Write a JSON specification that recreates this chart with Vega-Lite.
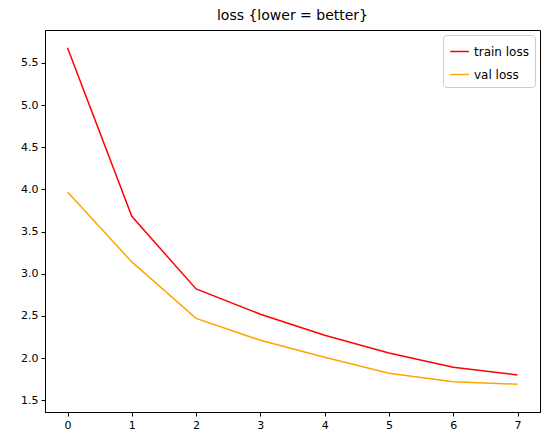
{
  "$schema": "https://vega.github.io/schema/vega-lite/v6.json",
  "width": 495,
  "height": 382,
  "autosize": {"type": "none"},
  "padding": {"left": 45, "top": 30, "right": 7, "bottom": 23},
  "title": {"text": "loss {lower = better}", "font": "DejaVu Sans", "fontSize": 14, "fontWeight": "normal", "offset": 7},
  "data": {
    "values": [
      {"epoch": 0, "loss": 5.68, "series": "train loss"},
      {"epoch": 1, "loss": 3.68, "series": "train loss"},
      {"epoch": 2, "loss": 2.82, "series": "train loss"},
      {"epoch": 3, "loss": 2.52, "series": "train loss"},
      {"epoch": 4, "loss": 2.27, "series": "train loss"},
      {"epoch": 5, "loss": 2.06, "series": "train loss"},
      {"epoch": 6, "loss": 1.89, "series": "train loss"},
      {"epoch": 7, "loss": 1.80, "series": "train loss"},
      {"epoch": 0, "loss": 3.97, "series": "val loss"},
      {"epoch": 1, "loss": 3.14, "series": "val loss"},
      {"epoch": 2, "loss": 2.47, "series": "val loss"},
      {"epoch": 3, "loss": 2.21, "series": "val loss"},
      {"epoch": 4, "loss": 2.01, "series": "val loss"},
      {"epoch": 5, "loss": 1.82, "series": "val loss"},
      {"epoch": 6, "loss": 1.72, "series": "val loss"},
      {"epoch": 7, "loss": 1.69, "series": "val loss"}
    ]
  },
  "mark": {"type": "line", "strokeWidth": 1.5},
  "encoding": {
    "x": {"field": "epoch", "type": "quantitative", "title": null,
      "scale": {"domain": [-0.35, 7.35], "nice": false, "zero": false},
      "axis": {"values": [0,1,2,3,4,5,6,7], "grid": false, "format": "d"}},
    "y": {"field": "loss", "type": "quantitative", "title": null,
      "scale": {"domain": [1.36, 5.89], "nice": false, "zero": false},
      "axis": {"values": [1.5,2,2.5,3,3.5,4,4.5,5,5.5], "grid": false, "format": ".1f"}},
    "color": {"field": "series", "type": "nominal", "title": null,
      "scale": {"domain": ["train loss", "val loss"], "range": ["red", "orange"]},
      "legend": {"orient": "top-right", "offset": 5, "symbolType": "stroke", "strokeColor": "#cccccc", "fillColor": "white", "padding": 6, "cornerRadius": 3, "labelFontSize": 12, "symbolSize": 350, "symbolStrokeWidth": 1.5, "rowPadding": 6}}
  },
  "config": {
    "font": "DejaVu Sans",
    "view": {"stroke": "black", "strokeWidth": 1},
    "axis": {"labelFont": "DejaVu Sans", "labelFontSize": 11, "labelColor": "black", "tickColor": "black", "domainColor": "black", "tickSize": 4, "labelPadding": 3}
  }
}
